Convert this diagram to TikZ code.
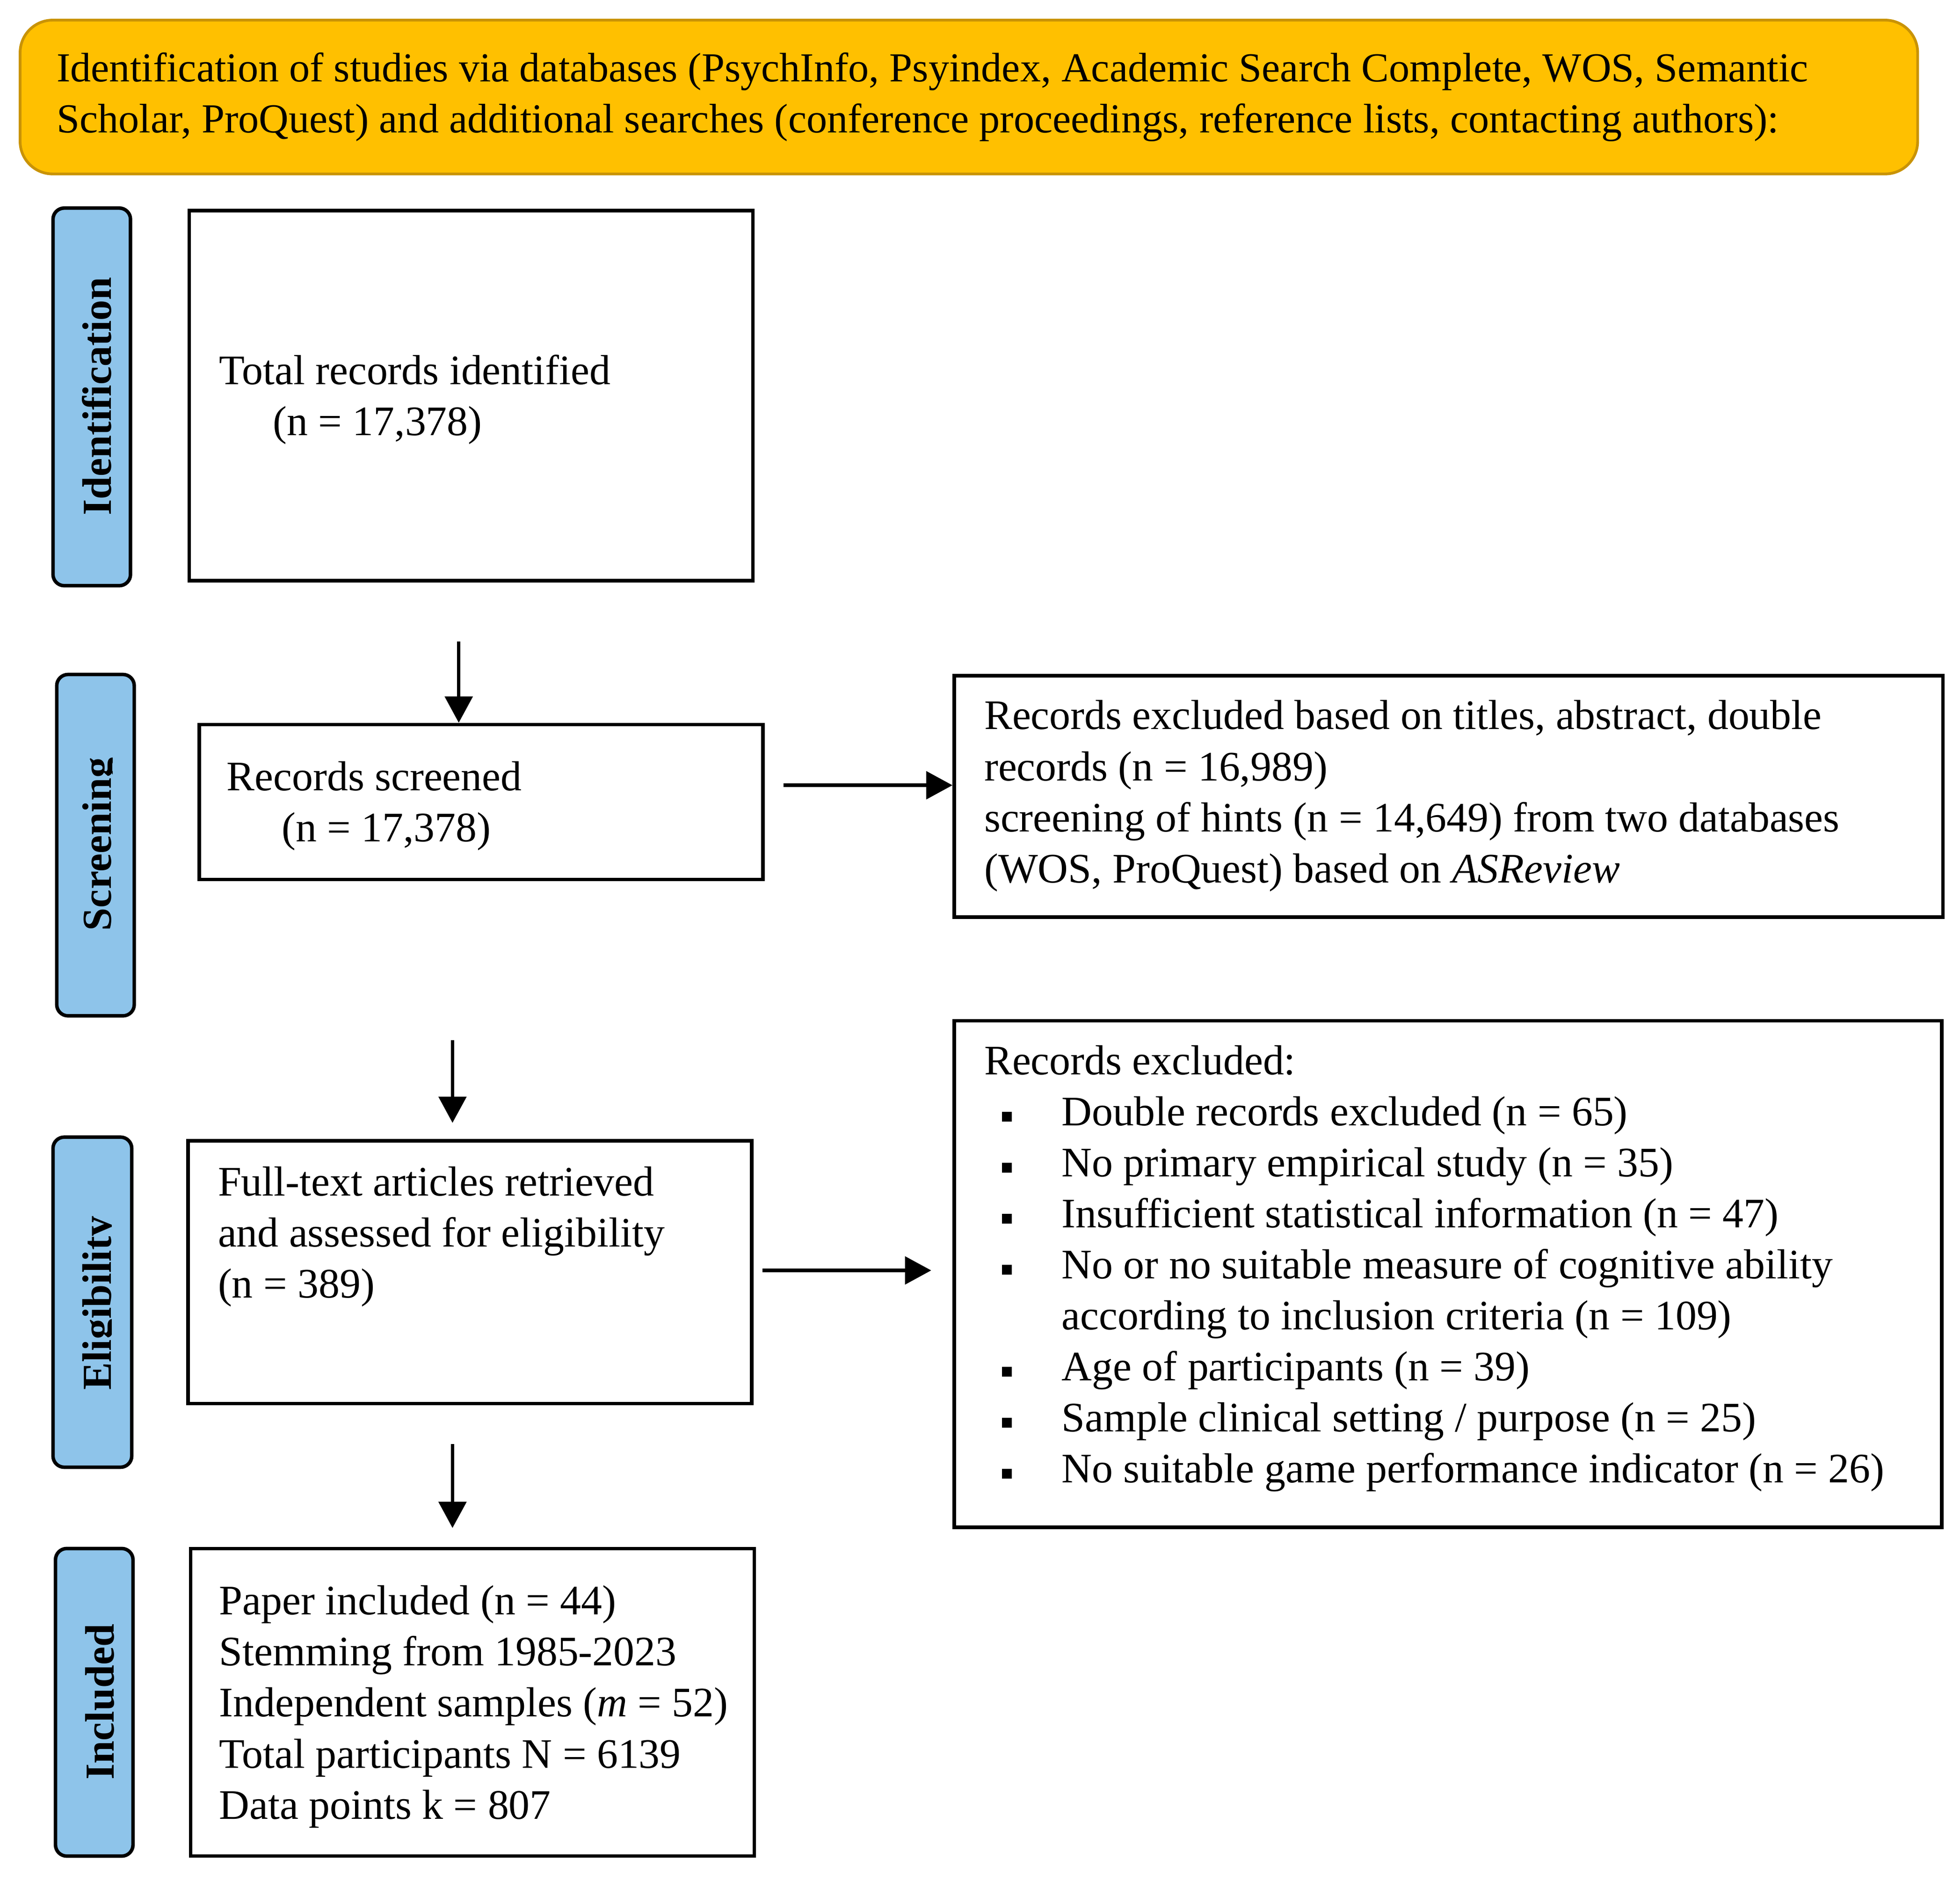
\documentclass[tikz,border=0pt]{standalone}
\usepackage{fontspec}
\setmainfont{Liberation Serif}
\usetikzlibrary{arrows.meta}
\definecolor{gold}{HTML}{FFC000}
\definecolor{goldline}{HTML}{C99306}
\definecolor{phase}{HTML}{8EC4EA}
\newcommand\tsx{\rule{0pt}{13pt}}
\newcommand\bul{\makebox[24pt][l]{\rule[1.6pt]{4pt}{4pt}}}
\begin{document}
\begin{tikzpicture}[x=0.5pt,y=-0.5pt,
 every node/.style={font=\fontsize{16.8}{20.4}\selectfont},
 box/.style={draw, line width=1.4pt, rectangle, inner sep=0pt, anchor=north west},
 phasebox/.style={draw, line width=1.4pt, fill=phase, rounded corners=4.5pt, inner sep=0pt, anchor=north west},
 txt/.style={anchor=north west, inner sep=0pt, align=left},
 lab/.style={rotate=90, anchor=base, inner sep=0pt, font=\fontsize{16.5}{18}\selectfont\bfseries},
 arr/.style={line width=1.4pt, -{Triangle[width=11pt,length=10.5pt]}}]
\useasboundingbox (0,0) rectangle (1568,1505);
% banner
\node[draw=goldline, fill=gold, line width=1.1pt, rounded corners=13pt, minimum width=759pt, minimum height=61.5pt, anchor=north west, inner sep=0pt] (banner) at (15,15) {};
\node[txt, font=\fontsize{16.5}{20.4}\selectfont] (bannert) at (45,39) {\tsx Identification of studies via databases (PsychInfo, Psyindex, Academic Search Complete, WOS, Semantic\\Scholar, ProQuest) and additional searches (conference proceedings, reference lists, contacting authors):};
% phase labels
\node[phasebox, minimum width=31pt, minimum height=151pt] (ident) at (41,165) {};
\node[phasebox, minimum width=31pt, minimum height=136.5pt] (screen) at (44,538) {};
\node[phasebox, minimum width=31.5pt, minimum height=132pt] (elig) at (41,908) {};
\node[phasebox, minimum width=31pt, minimum height=123pt] (incl) at (43,1237) {};
\node[lab] (identl) at (89,317) {Identification};
\begin{scope}
\clip (44,538) rectangle (90,811);
\node[lab] (screenl) at (89,675) {Screening};
\end{scope}
\begin{scope}
\clip (41,908) rectangle (89.4,1172);
\node[lab] (eligl) at (88.7,1042) {Eligibility};
\end{scope}
\node[lab] (incll) at (91,1361) {Included};
% boxes
\node[box, minimum width=225.5pt, minimum height=148pt] (B1) at (150,167) {};
\node[box, minimum width=225.5pt, minimum height=62pt] (B2) at (158,578) {};
\node[box, minimum width=395.5pt, minimum height=96.5pt] (E1) at (762,539) {};
\node[box, minimum width=225.5pt, minimum height=105pt] (B3) at (149,911) {};
\node[box, minimum width=395pt, minimum height=202.5pt] (E2) at (762,815) {};
\node[box, minimum width=225.5pt, minimum height=123pt] (B4) at (151,1237) {};
% texts
\node[txt] (B1t) at (175,281) {\tsx Total records identified\\\hspace*{21.5pt}(n = 17,378)};
\node[txt] (B2t) at (181,606) {\tsx Records screened\\\hspace*{22pt}(n = 17,378)};
\node[txt] (E1t) at (787,557) {\tsx Records excluded based on titles, abstract, double\\records (n = 16,989)\\screening of hints (n = 14,649) from two databases\\(WOS, ProQuest) based on \textit{ASReview}};
\node[txt] (B3t) at (174,930) {\tsx Full-text articles retrieved\\and assessed for eligibility\\(n = 389)};
\node[txt] (E2t) at (787,833) {\tsx Records excluded:\\
\hspace*{7pt}\bul Double records excluded (n = 65)\\
\hspace*{7pt}\bul No primary empirical study (n = 35)\\
\hspace*{7pt}\bul Insufficient statistical information (n = 47)\\
\hspace*{7pt}\bul No or no suitable measure of cognitive ability\\
\hspace*{31pt}according to inclusion criteria (n = 109)\\
\hspace*{7pt}\bul Age of participants (n = 39)\\
\hspace*{7pt}\bul Sample clinical setting / purpose (n = 25)\\
\hspace*{7pt}\bul No suitable game performance indicator (n = 26)};
\node[txt] (B4t) at (175,1265) {\tsx Paper included (n = 44)\\Stemming from 1985-2023\\Independent samples (\textit{m} = 52)\\Total participants N = 6139\\Data points k = 807};
% arrows
\coordinate (a1s) at (367,513);
\draw[arr] (a1s) -- (a1s |- B2.north);
\coordinate (a2s) at (627,628);
\draw[arr] (a2s) -- (a2s -| E1.west);
\coordinate (a3s) at (362,832);
\coordinate (a3e) at (362,898);
\draw[arr] (a3s) -- (a3e);
\coordinate (a4s) at (610,1016);
\coordinate (a4e) at (745,1016);
\draw[arr] (a4s) -- (a4e);
\coordinate (a5s) at (362,1155);
\coordinate (a5e) at (362,1222);
\draw[arr] (a5s) -- (a5e);
\end{tikzpicture}
\end{document}
